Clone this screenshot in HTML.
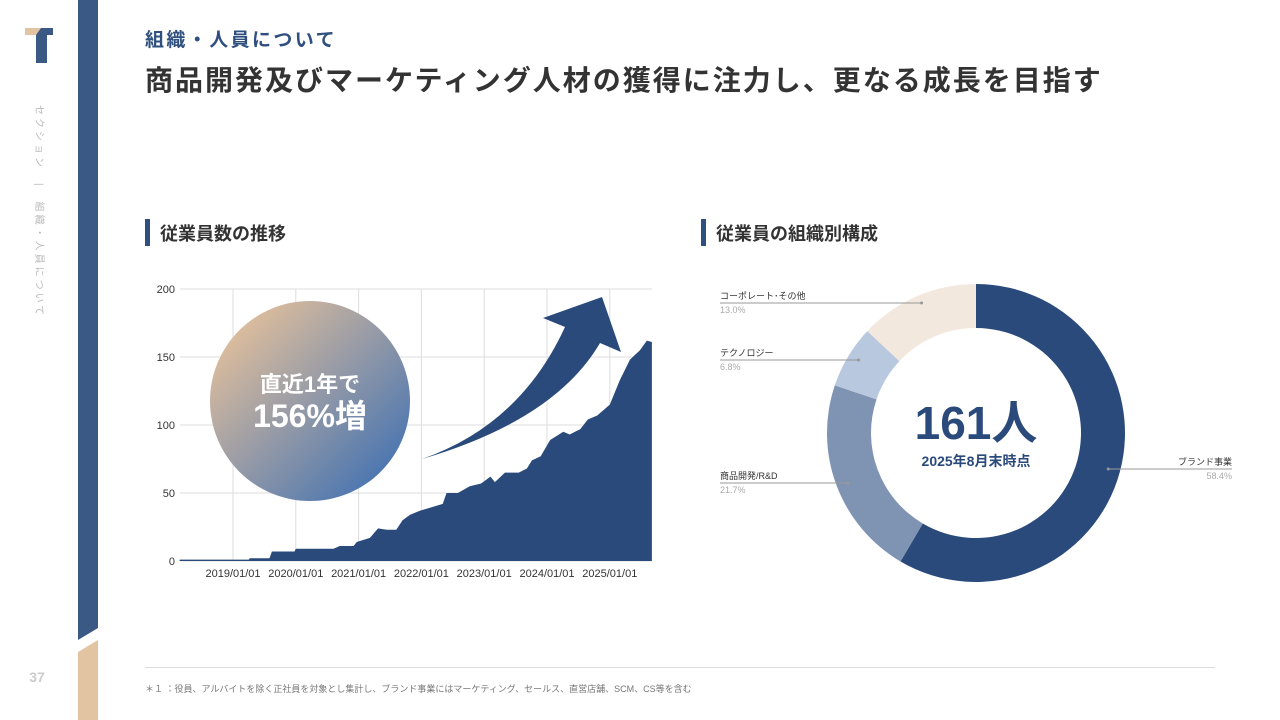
<!DOCTYPE html>
<html><head><meta charset="utf-8">
<style>
body{margin:0;width:1280px;height:720px;background:#fff;position:relative;overflow:hidden;font-family:"Liberation Sans","Noto Sans CJK JP",sans-serif}
.abs{position:absolute}
</style></head><body>
<svg class="abs" style="left:0;top:0" width="140" height="720">
  <rect x="25" y="28" width="16" height="7" fill="#e2c4a3"/>
  <polygon points="41,28 53,28 53,35 47,35 47,63 36,63 36,35" fill="#3a5a85"/>
  <polygon points="78,0 98,0 98,628 78,640" fill="#3a5a85"/>
  <polygon points="78,652 98,640 98,720 78,720" fill="#e2c4a3"/>
  <text x="37" y="682" font-size="14" font-weight="bold" fill="#ccc" text-anchor="middle">37</text>
  <text transform="translate(36,105) rotate(90)" font-size="10" fill="#bbb" letter-spacing="3">セクション　|　組織・人員について</text>
</svg>
<div class="abs" style="left:145px;top:25px;font-size:19px;font-weight:bold;color:#2f4f7f;letter-spacing:2.4px">組織・人員について</div>
<div class="abs" style="left:145px;top:59px;font-size:28px;font-weight:bold;color:#333;letter-spacing:2px;white-space:nowrap">商品開発及びマーケティング人材の獲得に注力し、更なる成長を目指す</div>
<div class="abs" style="left:145px;top:219px;width:5px;height:27px;background:#2f4f7f"></div>
<div class="abs" style="left:160px;top:220px;font-size:18px;font-weight:bold;color:#333">従業員数の推移</div>
<div class="abs" style="left:701px;top:219px;width:5px;height:27px;background:#2f4f7f"></div>
<div class="abs" style="left:716px;top:220px;font-size:18px;font-weight:bold;color:#333">従業員の組織別構成</div>

<svg id="area" class="abs" style="left:0;top:0" width="700" height="600">
  <defs><linearGradient id="cg" x1="0" y1="0" x2="1" y2="1"><stop offset="0.1" stop-color="#e3c09c"/><stop offset="0.85" stop-color="#4f78b0"/></linearGradient></defs>
</svg>
<svg id="donut" class="abs" style="left:0;top:0" width="1280" height="620"></svg>

<div class="abs" style="left:145px;top:667px;width:1070px;height:1px;background:#ddd"></div>
<div class="abs" style="left:145px;top:682px;font-size:9px;color:#777">＊１ ：役員、アルバイトを除く正社員を対象とし集計し、ブランド事業にはマーケティング、セールス、直営店舗、SCM、CS等を含む</div>

<script>
const NS="http://www.w3.org/2000/svg";
const yTicks=[0,50,100,150,200];
const xTickYears=[2019,2020,2021,2022,2023,2024,2025];
const xTickLabels=["2019/01/01","2020/01/01","2021/01/01","2022/01/01","2023/01/01","2024/01/01","2025/01/01"];
const dates=[2018.15,2018.5,2018.52,2019.25,2019.27,2019.58,2019.62,2019.98,2020.0,2020.6,2020.7,2020.92,2020.97,2021.18,2021.31,2021.45,2021.6,2021.7,2021.82,2021.98,2022.34,2022.4,2022.58,2022.77,2022.95,2023.1,2023.17,2023.33,2023.55,2023.68,2023.76,2023.9,2024.05,2024.26,2024.36,2024.53,2024.65,2024.8,2025.0,2025.16,2025.32,2025.48,2025.59,2025.67];
const values=[1,1,1,1,2,2,7,7,9,9,11,11,14,17,24,23,23,30,34,37,42,50,50,55,57,62,58,65,65,68,74,77,89,95,93,97,104,107,115,133,148,155,162,161];
const donutLabels=["ブランド事業","商品開発/R&D","テクノロジー","コーポレート･その他"];
const donutValues=[58.4,21.7,6.8,13.0];
const donutColors=["#2a4a7b","#7f93b3","#b8c8de","#f3e8de"];

const svg=document.getElementById('area');
const X0=180,X1=652,Yb=561,Yt=289;
const xs=t=>233+(t-2019)*62.8;
const ys=v=>Yb-(v/200)*(Yb-Yt);
function mk(tag,attrs,parent){const e=document.createElementNS(NS,tag);for(const k in attrs)e.setAttribute(k,attrs[k]);(parent||svg).appendChild(e);return e;}
yTicks.forEach(v=>{
  const l=mk('line',{x1:X0,x2:X1,y1:ys(v),y2:ys(v),stroke:'#ddd','stroke-width':1});
  
  
  const t=mk('text',{x:175,y:ys(v)+4,'font-size':11,fill:'#333','text-anchor':'end'});
  t.textContent=v;
  
  
});
xTickYears.forEach((y,i)=>{
  const l=mk('line',{x1:xs(y),x2:xs(y),y1:Yt,y2:Yb,stroke:'#ddd','stroke-width':1});
  
  
  const t=mk('text',{x:xs(y),y:577,'font-size':11,fill:'#333','text-anchor':'middle'});
  t.textContent=xTickLabels[i];
  
  
});
let d=`M${xs(dates[0])},${Yb}`;
dates.forEach((t,i)=>{d+=` L${xs(t)},${ys(values[i])}`;});
d+=` L${xs(dates[dates.length-1])},${Yb} Z`;
const area=mk('path',{d:d,fill:'#2a4a7b'});


const arrow=mk('path',{d:'M422,459 Q520,425 565,327 L543,318 L602,297 L621,352 L600,343 Q555,420 422,459 Z',fill:'#2a4a7b'});


const circ=mk('circle',{cx:310,cy:401,r:100,fill:'url(#cg)'});


const t1=mk('text',{x:310,y:392,'font-size':22,'font-weight':'bold',fill:'#fff','text-anchor':'middle'});
t1.textContent='直近1年で';


const t2=mk('text',{x:310,y:427,'font-size':32,'font-weight':'bold',fill:'#fff','text-anchor':'middle'});
t2.textContent='156%増';



// donut
const ds=document.getElementById('donut');
const cx=976,cy=433,R=149,r=105;
const total=donutValues.reduce((a,b)=>a+b,0);
let acc=0;
const labelPos=[{x:1232,y:465,anchor:'end'},{x:720,y:479,anchor:'start'},{x:720,y:356,anchor:'start'},{x:720,y:299,anchor:'start'}];
donutValues.forEach((v,i)=>{
  const a0=acc/total*2*Math.PI;acc+=v;const a1=acc/total*2*Math.PI;
  const p=(a,rad)=>[cx+rad*Math.sin(a),cy-rad*Math.cos(a)];
  const [x0,y0]=p(a0,R),[x1,y1]=p(a1,R),[x2,y2]=p(a1,r),[x3,y3]=p(a0,r);
  const lg=(a1-a0)>Math.PI?1:0;
  const s=mk('path',{d:`M${x0},${y0} A${R},${R} 0 ${lg} 1 ${x1},${y1} L${x2},${y2} A${r},${r} 0 ${lg} 0 ${x3},${y3} Z`,fill:donutColors[i]},ds);
  
  
  const am=(a0+a1)/2;const [mx,my]=p(am,(R+r)/2+10);
  const lp=labelPos[i];
  const ly=lp.y+4;
  const ln=mk('line',{x1:mx,y1:ly,x2:lp.x,y2:ly,stroke:'#999','stroke-width':1},ds);
  
  
  mk('circle',{cx:mx,cy:ly,r:1.5,fill:'#999'},ds);
  const tl=mk('text',{x:lp.x,y:lp.y,'font-size':9,fill:'#333','text-anchor':lp.anchor},ds);
  tl.textContent=donutLabels[i];
  
  
  const tp=mk('text',{x:lp.x,y:lp.y+14,'font-size':9,fill:'#aaa','text-anchor':lp.anchor},ds);
  tp.textContent=v.toFixed(1)+'%';
  
  
});
const c1=mk('text',{x:976,y:439,'font-size':46,'font-weight':'bold',fill:'#2a4a7b','text-anchor':'middle'},ds);
c1.textContent='161人';


const c2=mk('text',{x:976,y:466,'font-size':14,'font-weight':'bold',fill:'#2a4a7b','text-anchor':'middle'},ds);
c2.textContent='2025年8月末時点';


</script>
</body></html>
